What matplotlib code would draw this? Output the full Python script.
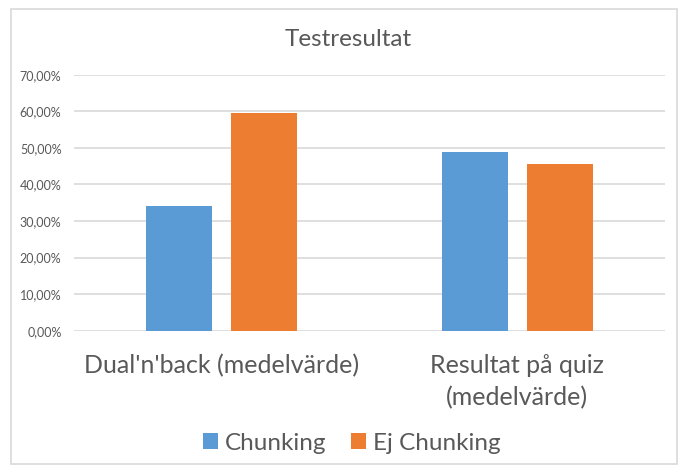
import numpy as np
import matplotlib.pyplot as plt
from matplotlib.patches import Rectangle

categories = ["Dual'n'back (medelvärde)", "Resultat på quiz\n(medelvärde)"]
chunking = [0.341, 0.488]
ej_chunking = [0.596, 0.456]
series_names = ["Chunking", "Ej Chunking"]
yticks = [0.0, 0.1, 0.2, 0.3, 0.4, 0.5, 0.6, 0.7]

plt.rcParams['font.family'] = ['Lato', 'DejaVu Sans']
txt = '#595959'

fig = plt.figure(figsize=(6.84, 4.72), dpi=100)
fig.patches.append(Rectangle((11 / 684, 8 / 472), 666 / 684, 455 / 472,
                             transform=fig.transFigure, fill=False,
                             edgecolor='#D9D9D9', linewidth=1.2))
ax = fig.add_axes([74 / 684, 1 - 330.7 / 472, 591 / 684, (330.7 - 74.7) / 472])

x = np.arange(len(categories))
w = 0.223
gap = 0.064
ax.bar(x - (w + gap) / 2, chunking, w, color='#5B9BD5', label=series_names[0], zorder=3)
ax.bar(x + (w + gap) / 2, ej_chunking, w, color='#ED7D31', label=series_names[1], zorder=3)

ax.set_xlim(-0.5, 1.5)
ax.set_ylim(0, 0.7)
ax.set_yticks(yticks)
ax.set_yticklabels([f"{v * 100:.2f}%".replace('.', ',') for v in yticks],
                   fontsize=9, color=txt)
ax.set_xticks(x)
ax.set_xticklabels(categories, fontsize=18, color=txt, linespacing=1.45)
ax.tick_params(length=0)
ax.tick_params(axis='x', pad=17)
ax.tick_params(axis='y', pad=9)
ax.grid(axis='y', color='#D9D9D9', linewidth=1.2, zorder=0)
for s in ax.spines.values():
    s.set_visible(False)

fig.text(348 / 684, 1 - 40 / 472, "Testresultat", ha='center', va='center',
         fontsize=17.5, color=txt)
fig.legend(loc='center', bbox_to_anchor=(352 / 684, 1 - 443 / 472), ncol=2,
           frameon=False, fontsize=17.5, labelcolor=txt, handlelength=0.6,
           handleheight=0.6, handletextpad=0.3, columnspacing=1.0)

fig.savefig('out.png', dpi=100)
